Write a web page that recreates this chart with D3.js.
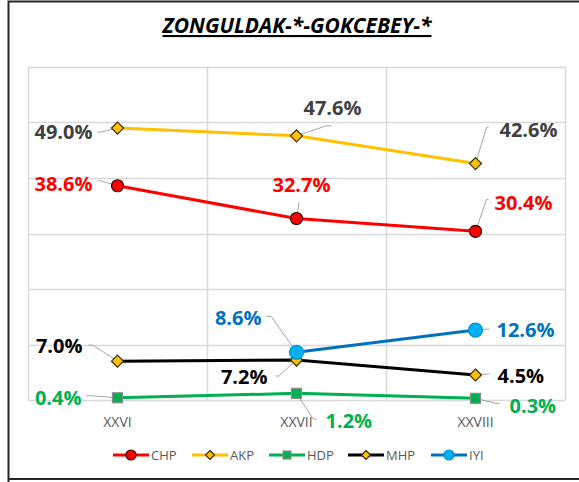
<!DOCTYPE html>
<html>
<head>
<meta charset="utf-8">
<script src="https://cdn.jsdelivr.net/npm/d3@7"></script>
<style>
  body { margin: 0; background: #fff; }
  text { font-family: "Open Sans", "Noto Sans", sans-serif; }
</style>
</head>
<body>
<div id="chart"></div>
<script>
// data
var elections = ["XXVI", "XXVII", "XXVIII"];
var parties = ["CHP", "AKP", "HDP", "MHP", "IYI"];
var chpValues = [38.6, 32.7, 30.4];
var akpValues = [49.0, 47.6, 42.6];
var hdpValues = [0.4, 1.2, 0.3];
var mhpValues = [7.0, 7.2, 4.5];
var iyiValues = [null, 8.6, 12.6];
var yTicks = [0, 10, 20, 30, 40, 50, 60];

var svgWidth = 579;
var svgHeight = 482;

var margin = { top: 67, right: 14, bottom: 82, left: 28 };
var width = svgWidth - margin.left - margin.right;
var height = svgHeight - margin.top - margin.bottom;

// styles per party
var styles = {
    CHP: { line: "#FF0000", fill: "#FF0000", stroke: "#3a0000", marker: "circle", r: 6, label: "#FF0000" },
    AKP: { line: "#FFC000", fill: "#FFC000", stroke: "#3a2a00", marker: "diamond", r: 6, label: "#404040" },
    HDP: { line: "#00B050", fill: "#00B050", stroke: "#8c8c8c", marker: "square", r: 5, label: "#00B050" },
    MHP: { line: "#000000", fill: "#FFC000", stroke: "#3a2a00", marker: "diamond", r: 6, label: "#000000" },
    IYI: { line: "#0070C0", fill: "#00B0F0", stroke: "#0090d0", marker: "circle", r: 7, label: "#0070C0" }
};

// label offsets: text dx, text dy (centre), anchor, leader start dx, dy
var labelPos = {
    CHP: [[-25, -2, "end", -20, -5], [5, -34, "middle", 3, -16], [19, -28, "start", 13, -32]],
    AKP: [[-25, 4, "end", -20, 4], [36, -28, "middle", 35, -10], [24, -34, "start", 13, -36]],
    HDP: [[-36, 0, "end", -31, -2], [29, 28, "start", 20, 26], [34, 8, "start", 24, 5]],
    MHP: [[-35, -15, "end", -29, -16], [-29, 17, "end", -21, 16], [22, 1, "start", 14, -1]],
    IYI: [null, [-35, -34, "end", -30, -36], [21, 0, "start", 14, -1]]
};

var seriesData = {
    CHP: chpValues, AKP: akpValues, HDP: hdpValues, MHP: mhpValues, IYI: iyiValues
};

var svg = d3.select("#chart")
    .append("svg")
    .attr("width", svgWidth)
    .attr("height", svgHeight);

// outer frame
svg.append("path")
    .attr("d", "M8.5,600 V1.5 H600")
    .attr("fill", "none")
    .attr("stroke", "#262626")
    .attr("stroke-width", 2);
svg.append("line")
    .attr("x1", 8).attr("x2", 600)
    .attr("y1", 479).attr("y2", 479)
    .attr("stroke", "#262626")
    .attr("stroke-width", 2);

// title
svg.append("text")
    .attr("x", 297)
    .attr("y", 33)
    .attr("text-anchor", "middle")
    .attr("font-size", 21)
    .attr("font-weight", "bold")
    .attr("font-style", "italic")
    .attr("text-decoration", "underline")
    .attr("fill", "#000")
    .text("ZONGULDAK-*-GOKCEBEY-*");

var chartGroup = svg.append("g")
    .attr("transform", `translate(${margin.left}, ${margin.top})`);

var xScale = d3.scaleBand()
    .domain(elections)
    .range([0, width]);

var yScale = d3.scaleLinear()
    .domain([0, 60])
    .range([height, 0]);

// gridlines
chartGroup.append("g")
    .selectAll("line")
    .data(yTicks)
    .enter()
    .append("line")
    .attr("x1", 0)
    .attr("x2", width)
    .attr("y1", d => Math.round(yScale(d)) + 0.5)
    .attr("y2", d => Math.round(yScale(d)) + 0.5)
    .attr("stroke", "#d9d9d9")
    .attr("stroke-width", 1.5);

var xEdges = elections.map(d => xScale(d)).concat([width]);
chartGroup.append("g")
    .selectAll("line")
    .data(xEdges)
    .enter()
    .append("line")
    .attr("x1", d => Math.round(d) + 0.5)
    .attr("x2", d => Math.round(d) + 0.5)
    .attr("y1", 0)
    .attr("y2", height)
    .attr("stroke", "#d9d9d9")
    .attr("stroke-width", 1.5);

// x axis labels
var xAxis = chartGroup.append("g")
    .attr("transform", `translate(0, ${height})`)
    .call(d3.axisBottom(xScale).tickSize(0).tickPadding(17));
xAxis.select(".domain").remove();
xAxis.selectAll("text")
    .attr("font-family", "Open Sans, sans-serif")
    .attr("font-size", 14)
    .attr("fill", "#595959");

var cx = d => xScale(d) + xScale.bandwidth() / 2;

function drawMarker(g, type, x, y, st) {
    if (type === "circle") {
        g.append("circle")
            .attr("cx", x).attr("cy", y).attr("r", st.r)
            .attr("fill", st.fill)
            .attr("stroke", st.stroke)
            .attr("stroke-width", 1.2);
    } else if (type === "diamond") {
        var r = st.r;
        g.append("path")
            .attr("d", `M${x},${y - r} L${x + r},${y} L${x},${y + r} L${x - r},${y} Z`)
            .attr("fill", st.fill)
            .attr("stroke", st.stroke)
            .attr("stroke-width", 1.2);
    } else {
        var s = st.r;
        g.append("rect")
            .attr("x", x - s).attr("y", y - s)
            .attr("width", 2 * s).attr("height", 2 * s)
            .attr("fill", st.fill)
            .attr("stroke", st.stroke)
            .attr("stroke-width", 1.2);
    }
}

var lineGen = d3.line()
    .defined(d => d.v != null)
    .x(d => cx(d.e))
    .y(d => yScale(d.v));

// draw series: lines first, then markers, then labels
var drawOrder = ["CHP", "AKP", "HDP", "MHP", "IYI"];
drawOrder.forEach(function (p) {
    var pts = elections.map((e, i) => ({ e: e, v: seriesData[p][i] }));
    chartGroup.append("path")
        .datum(pts)
        .attr("d", lineGen)
        .attr("fill", "none")
        .attr("stroke", styles[p].line)
        .attr("stroke-width", 3);
});

var leaderGroup = chartGroup.append("g");
var markerGroup = chartGroup.append("g");
var labelGroup = chartGroup.append("g");

drawOrder.forEach(function (p) {
    var st = styles[p];
    elections.forEach(function (e, i) {
        var v = seriesData[p][i];
        if (v == null) return;
        var x = cx(e), y = yScale(v);
        var lp = labelPos[p][i];
        // leader line from label to point
        var lx = x + lp[3], ly = y + lp[4];
        var midX = lx + (x - lx) * 0.15;
        leaderGroup.append("path")
            .attr("d", `M${lx},${ly} L${midX},${ly} L${x},${y}`)
            .attr("fill", "none")
            .attr("stroke", "#a6a6a6")
            .attr("stroke-width", 1);
        drawMarker(markerGroup, st.marker, x, y, st);
        labelGroup.append("text")
            .attr("x", x + lp[0])
            .attr("y", y + lp[1] + 7)
            .attr("text-anchor", lp[2])
            .attr("font-size", 20)
            .attr("font-weight", "bold")
            .attr("fill", st.label)
            .text(v.toFixed(1) + "%");
    });
});

// legend
var legendX = [113, 192, 269, 348, 431];
var legend = svg.append("g").attr("transform", "translate(0, 455)");
parties.forEach(function (p, i) {
    var st = styles[p];
    var x0 = legendX[i];
    var item = legend.append("g");
    item.append("line")
        .attr("x1", x0).attr("x2", x0 + 36)
        .attr("y1", 0).attr("y2", 0)
        .attr("stroke", st.line)
        .attr("stroke-width", 3);
    drawMarker(item, st.marker, x0 + 18, 0, {
        fill: st.fill, stroke: st.stroke, r: st.marker === "square" ? 4 : (st.marker === "diamond" ? 4.5 : 5)
    });
    item.append("text")
        .attr("x", x0 + 38)
        .attr("y", 4.5)
        .attr("font-size", 13)
        .attr("fill", "#595959")
        .text(p);
});
</script>
</body>
</html>
